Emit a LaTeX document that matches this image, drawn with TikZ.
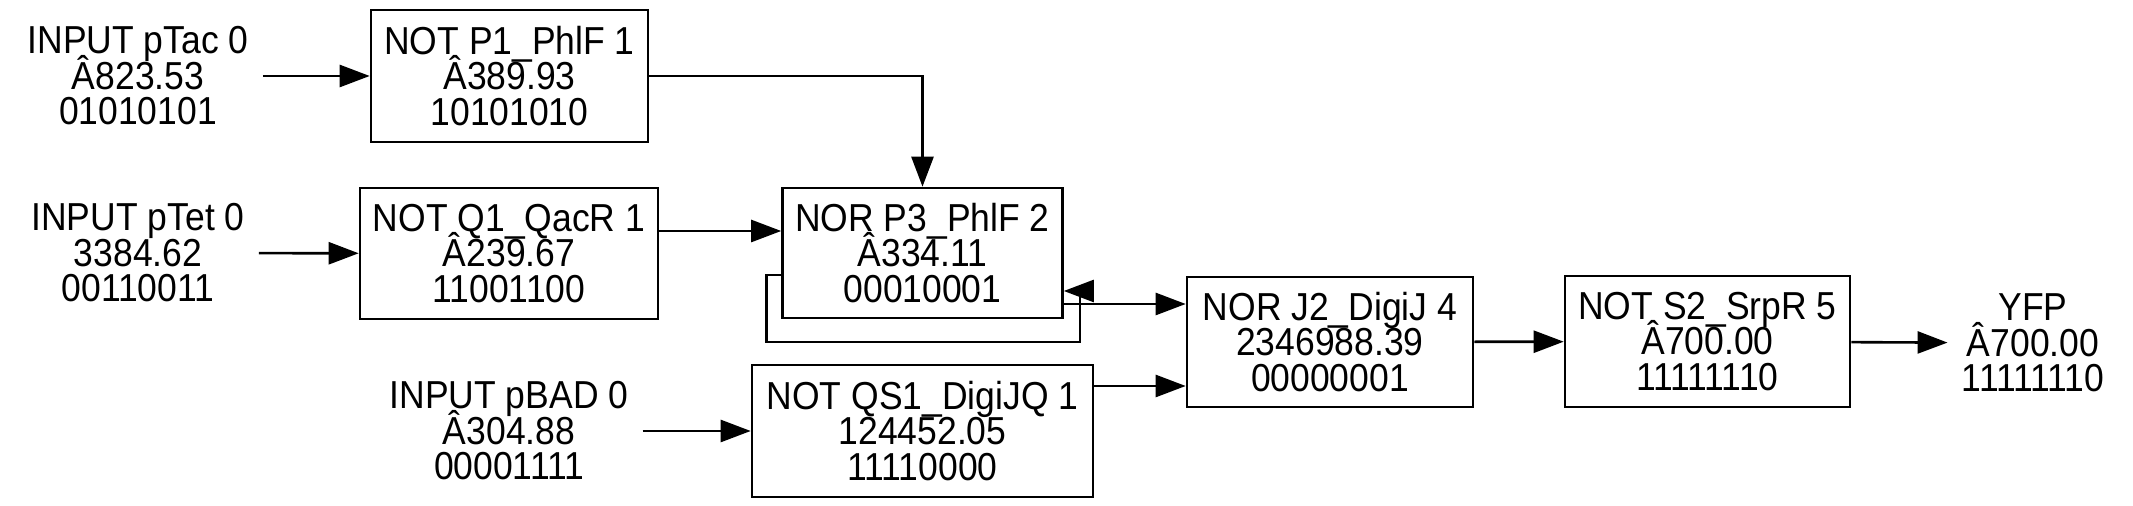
\documentclass[tikz,border=0pt]{standalone}
\usepackage{fontspec}
\setmainfont{Liberation Sans}[FakeStretch=0.91]
\usepackage{tikz}
\usetikzlibrary{arrows.meta}
\lineskiplimit=-20pt
\tikzset{
  gatebox/.style={rectangle, draw=black, line width=1.3pt, inner sep=0pt, align=center, font=\fontsize{19.5pt}{17.75pt}\selectfont},
  sigtext/.style={inner sep=7pt, align=center, font=\fontsize{19.5pt}{17.75pt}\selectfont},
  wire/.style={line width=1.3pt, -{Triangle[length=15pt, width=11pt]}}
}

\begin{document}
\begin{tikzpicture}[x=0.5pt, y=0.5pt]
    \useasboundingbox (0,0) rectangle (2133,-506);
    % inputs and output
    \node[sigtext] (pTac) at (138,-76) {INPUT pTac 0\\Â823.53\\01010101};
    \node[sigtext] (pTet) at (138,-253) {INPUT pTet 0\\3384.62\\00110011};
    \node[sigtext] (pBAD) at (509,-431) {INPUT pBAD 0\\Â304.88\\00001111};
    \node[sigtext] (YFP) at (2033,-343) {YFP\\Â700.00\\11111110};
    % gates
    \node[gatebox, minimum width=138.5pt, minimum height=66pt] (P1) at (509.5,-76) {NOT P1\_PhlF 1\\Â389.93\\10101010};
    \node[gatebox, minimum width=149pt, minimum height=65.5pt] (Q1) at (509,-253.5) {NOT Q1\_QacR 1\\Â239.67\\11001100};
    \node[gatebox, minimum width=140pt, minimum height=65pt] (P3) at (922.5,-253) {NOR P3\_PhlF 2\\Â334.11\\00010001};
    \node[gatebox, minimum width=170.5pt, minimum height=66pt] (QS1) at (922.5,-431) {NOT QS1\_DigiJQ 1\\124452.05\\11110000};
    \node[gatebox, minimum width=143pt, minimum height=65pt] (J2) at (1330,-342) {NOR J2\_DigiJ 4\\2346988.39\\00000001};
    \node[gatebox, minimum width=142.5pt, minimum height=65.5pt] (S2) at (1707.5,-341.5) {NOT S2\_SrpR 5\\Â700.00\\11111110};
    % wires
    \draw[wire] (pTac) -- (P1);
    \draw[wire] (pTet) -- (Q1);
    \draw[wire] (pBAD) -- (QS1);
    \draw[wire] (P1.east) -| (P3.north);
    \draw[wire] ([yshift=11.25pt]Q1.east) -- ([yshift=11.25pt]Q1.east -| P3.west);
    \draw[wire] ([yshift=-11pt]P3.west) -- ++(-7.5pt,0) -- ++(0,-33.5pt) -| ([xshift=8pt, yshift=-19pt]P3.east) -- ([yshift=-19pt]P3.east);
    \draw[wire] ([yshift=-25.5pt]P3.east) -- ([yshift=-25.5pt]P3.east -| J2.west);
    \draw[wire] ([yshift=22.5pt]QS1.east) -- ([yshift=22.5pt]QS1.east -| J2.west);
    \draw[wire] (J2) -- (S2);
    \draw[wire] (S2) -- (YFP);
\end{tikzpicture}
\end{document}
